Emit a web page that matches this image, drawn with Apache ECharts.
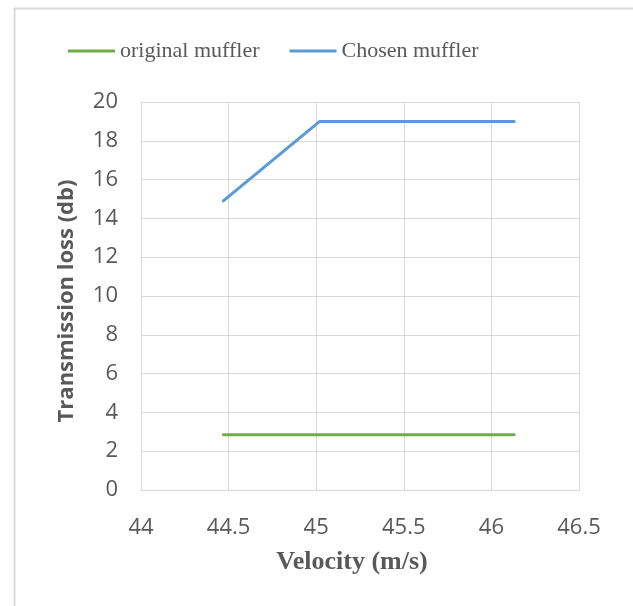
<!DOCTYPE html>
<html>
<head>
<meta charset="utf-8">
<script src="https://cdn.jsdelivr.net/npm/echarts@6/dist/echarts.min.js"></script>
<style>html,body{margin:0;padding:0;background:#fff;}#c{width:633px;height:606px;}</style>
</head>
<body>
<div id="c"></div>
<script>
const velocity = [44.47, 45.02, 46.13];
const originalMuffler = [2.85, 2.85, 2.85];
const chosenMuffler = [14.9, 19, 19];
const seriesNames = ['original muffler', 'Chosen muffler'];
const xAxisTitle = 'Velocity (m/s)';
const yAxisTitle = 'Transmission loss (db)';

const pairs = (xs, ys) => xs.map((x, i) => [x, ys[i]]);
const chart = echarts.init(document.getElementById('c'));
chart.setOption({
  animation: false,
  backgroundColor: '#fff',
  graphic: [{
    type: 'rect', left: 12, top: 6, silent: true,
    shape: { x: 0, y: 0, width: 620, height: 640 },
    style: { fill: 'none', stroke: '#d9d9d9', lineWidth: 2 }
  }],
  legend: {
    top: 35, left: 63, itemGap: 30, itemWidth: 47, itemHeight: 3,
    icon: 'rect',
    textStyle: { fontFamily: 'Liberation Serif', fontSize: 22, color: '#595959' },
    data: seriesNames
  },
  grid: { left: 141, right: 54, top: 102, bottom: 116, containLabel: false },
  xAxis: {
    type: 'value', min: 44, max: 46.5, interval: 0.5,
    name: xAxisTitle, nameLocation: 'middle', nameGap: 59,
    nameTextStyle: { fontFamily: 'Liberation Serif', fontWeight: 'bold', fontSize: 26, color: '#595959', padding: [0, 16, 0, 0] },
    axisLine: { show: true, lineStyle: { color: '#d9d9d9', width: 1 } },
    axisTick: { show: false },
    axisLabel: { margin: 27, fontFamily: 'Open Sans', fontSize: 22, color: '#595959' },
    splitLine: { show: true, lineStyle: { color: '#d9d9d9', width: 1 } }
  },
  yAxis: {
    type: 'value', min: 0, max: 20, interval: 2,
    name: yAxisTitle, nameLocation: 'middle', nameGap: 63,
    nameTextStyle: { fontFamily: 'Open Sans', fontWeight: 'bold', fontSize: 22, color: '#595959', padding: [0, 10, 0, 0] },
    axisLine: { show: true, lineStyle: { color: '#d9d9d9', width: 1 } },
    axisTick: { show: false },
    axisLabel: { margin: 23, fontFamily: 'Open Sans', fontSize: 22, color: '#595959' },
    splitLine: { show: true, lineStyle: { color: '#d9d9d9', width: 1 } }
  },
  series: [
    { name: seriesNames[0], type: 'line', data: pairs(velocity, originalMuffler), showSymbol: false, symbol: 'none',
      color: '#70ad47', lineStyle: { width: 3, color: '#70ad47', cap: 'round' } },
    { name: seriesNames[1], type: 'line', data: pairs(velocity, chosenMuffler), showSymbol: false, symbol: 'none',
      color: '#5b9bd5', lineStyle: { width: 3, color: '#5b9bd5', cap: 'round' } }
  ]
});
</script>
</body>
</html>
